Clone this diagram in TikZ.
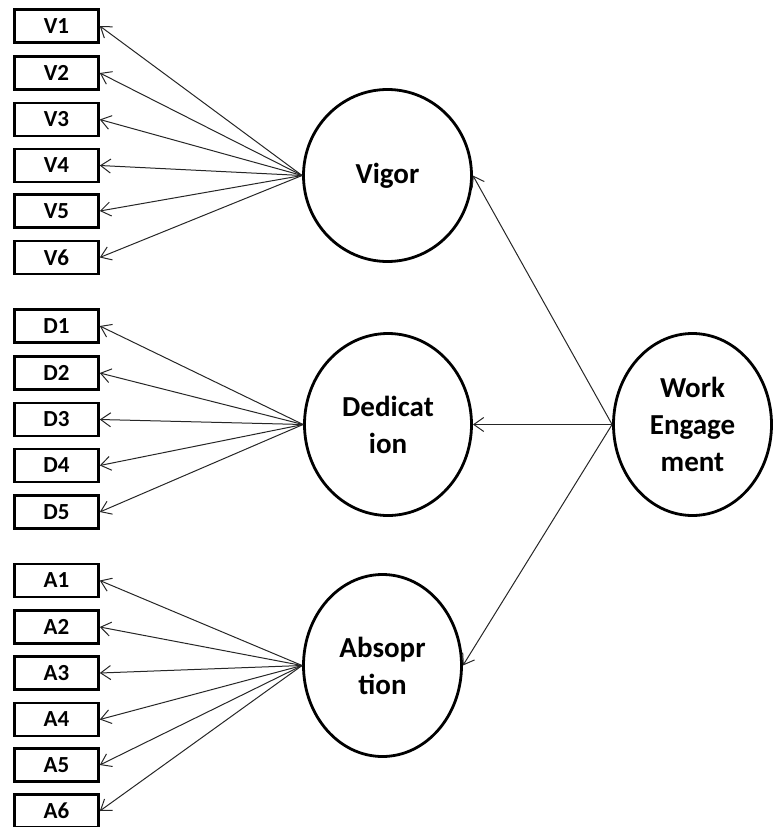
\documentclass[tikz,border=0pt]{standalone}
\usepackage{fontspec}
\setmainfont{Carlito}
\usetikzlibrary{shapes.geometric,arrows.meta}
\tikzset{
  item/.style={draw=black, line width=2.6pt, rectangle, minimum width=84pt, minimum height=33pt, inner sep=0pt, font=\fontsize{23}{26}\selectfont\bfseries},
  latent/.style={draw=black, line width=2.8pt, ellipse, inner sep=0pt, align=center, font=\fontsize{29}{37}\selectfont\bfseries},
  conn/.style={draw=black!85, line width=1pt, -{Straight Barb[length=10pt,width=14pt,line width=1pt]}}
}
\begin{document}
\begin{tikzpicture}[x=1pt,y=-1pt]
\useasboundingbox (0,0) rectangle (774,827);
% indicators
\foreach \n/\y in {1/26,2/73,3/119.5,4/165.5,5/211,6/257.5}{
  \node[item] (v\n) at (56.5,\y) {V\n};
}
\foreach \n/\y in {1/326,2/373,3/419.5,4/465.5,5/512}{
  \node[item] (d\n) at (56.5,\y) {D\n};
}
\foreach \n/\y in {1/580.5,2/627,3/673,4/719.5,5/765,6/811}{
  \node[item] (a\n) at (56.5,\y) {A\n};
}
% latent variables
\node[latent, minimum width=168pt, minimum height=172pt] (vig) at (387.5,175.5) {Vigor};
\node[latent, minimum width=167pt, minimum height=182pt] (ded) at (388,424.5) {Dedicat\\ion};
\node[latent, minimum width=158pt, minimum height=182pt] (abs) at (382.5,665.5) {Absopr\\tion};
\node[latent, minimum width=158pt, minimum height=182pt] (we) at (692.5,424.5) {Work\\Engage\\ment};
% loadings
\foreach \n in {1,...,6}{ \draw[conn] (vig.west) -- (v\n.east); }
\foreach \n in {1,...,5}{ \draw[conn] (ded.west) -- (d\n.east); }
\foreach \n in {1,...,6}{ \draw[conn] (abs.west) -- (a\n.east); }
% second order
\draw[conn] (we.west) -- (vig.east);
\draw[conn] (we.west) -- (ded.east);
\draw[conn] (we.west) -- (abs.east);
\end{tikzpicture}
\end{document}
